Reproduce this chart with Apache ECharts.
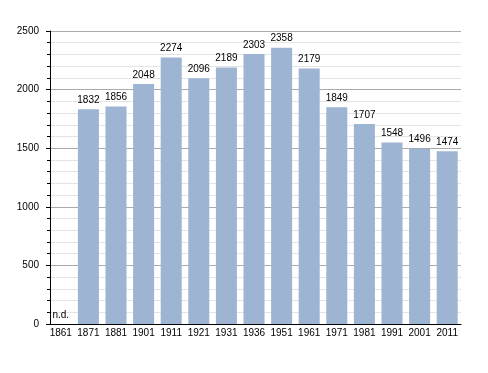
<!DOCTYPE html>
<html>
<head>
<meta charset="utf-8">
<script src="https://cdn.jsdelivr.net/npm/echarts@6/dist/echarts.min.js"></script>
<style>html,body{margin:0;padding:0;background:#fff}#c{width:488px;height:373px}</style>
</head>
<body>
<div id="c"></div>
<script>
var categories = ['1861','1871','1881','1901','1911','1921','1931','1936','1951','1961','1971','1981','1991','2001','2011'];
var population = [null,1832,1856,2048,2274,2096,2189,2303,2358,2179,1849,1707,1548,1496,1474];
var yTicks = [0,500,1000,1500,2000,2500];

var chart = echarts.init(document.getElementById('c'));
var data = population.map(function(v){
  if (v === null) return {value: 0, label: {formatter: 'n.d.'}};
  return v;
});
chart.setOption({
  animation: false,
  textStyle: {fontFamily: 'Liberation Sans, Arial, sans-serif'},
  grid: {left: 47, right: 27, top: 31, bottom: 49},
  xAxis: {
    type: 'category',
    data: categories,
    axisLine: {lineStyle: {color: '#000', width: 1}},
    axisTick: {show: false},
    axisLabel: {color: '#000', fontSize: 10, margin: 4, interval: 0}
  },
  yAxis: {
    type: 'value',
    min: yTicks[0], max: yTicks[yTicks.length-1], interval: 500,
    offset: -3,
    axisLine: {show: true, lineStyle: {color: '#000', width: 1}},
    axisTick: {show: true, length: 4, lineStyle: {color: '#000'}},
    minorTick: {show: true, splitNumber: 5, length: 3, lineStyle: {color: '#000'}},
    axisLabel: {color: '#000', fontSize: 10, margin: 11, formatter: function(v){ return String(v); }},
    splitLine: {show: true, lineStyle: {color: '#aaaaaa', width: 1}},
    minorSplitLine: {show: true, lineStyle: {color: '#e4e4e4', width: 1}}
  },
  series: [{
    type: 'bar',
    data: data,
    barWidth: 21,
    itemStyle: {color: '#9db4d2'},
    label: {show: true, position: 'top', distance: 4, color: '#000', fontSize: 10}
  }]
});
</script>
</body>
</html>
